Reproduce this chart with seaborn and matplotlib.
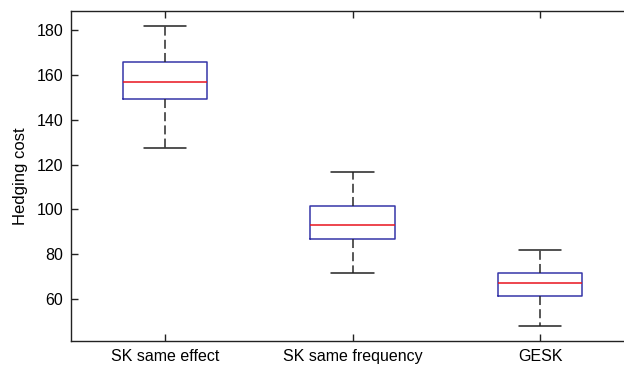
import matplotlib
matplotlib.use("Agg")
import matplotlib.pyplot as plt
import seaborn as sns
import pandas as pd

# five-number summaries (lower whisker, q1, median, q3, upper whisker)
categories = ["SK same effect", "SK same frequency", "GESK"]
sk_effect = [127.6, 149.1, 156.8, 165.6, 181.8]
sk_frequency = [71.6, 86.6, 93.0, 101.6, 116.8]
gesk = [48.1, 61.4, 67.3, 71.8, 81.9]
yticks = [60, 80, 100, 120, 140, 160, 180]

df = pd.DataFrame({
    "method": [categories[0]] * 5 + [categories[1]] * 5 + [categories[2]] * 5,
    "cost": sk_effect + sk_frequency + gesk,
})

sns.set_style("white")
plt.rcParams["font.family"] = ["Liberation Sans", "DejaVu Sans"]
plt.rcParams["lines.scale_dashes"] = False

fig = plt.figure(figsize=(6.24, 3.65), dpi=100)
ax = fig.add_axes([71 / 624, 1 - 341 / 365, 563 / 624, 330 / 365])

sns.boxplot(
    data=df, x="method", y="cost", order=categories, ax=ax,
    width=0.45, fill=False, whis=10, showfliers=False,
    boxprops=dict(color="#3535a8", linewidth=1.1),
    medianprops=dict(color="#e8141e", linewidth=1.1),
    whiskerprops=dict(color="#2a2a2a", linewidth=1.1, linestyle=(0, (6.5, 3))),
    capprops=dict(color="#222222", linewidth=1.1),
)

ax.set_xlim(-0.5, 2.5)
ax.set_ylim(41.3, 188.5)
ax.set_yticks(yticks)
ax.set_xlabel("")
ax.set_ylabel("Hedging cost", fontsize=12, color="black", labelpad=6.5)
for s in ax.spines.values():
    s.set_color("#222222")
    s.set_linewidth(1.0)
ax.tick_params(axis="both", direction="in", length=5, width=1.0, color="#222222",
               labelsize=11.5, labelcolor="black", top=True, left=True, bottom=True, right=False)
ax.tick_params(axis="x", pad=5.5)
ax.tick_params(axis="y", pad=5.5)

fig.savefig("out.png", dpi=100)
